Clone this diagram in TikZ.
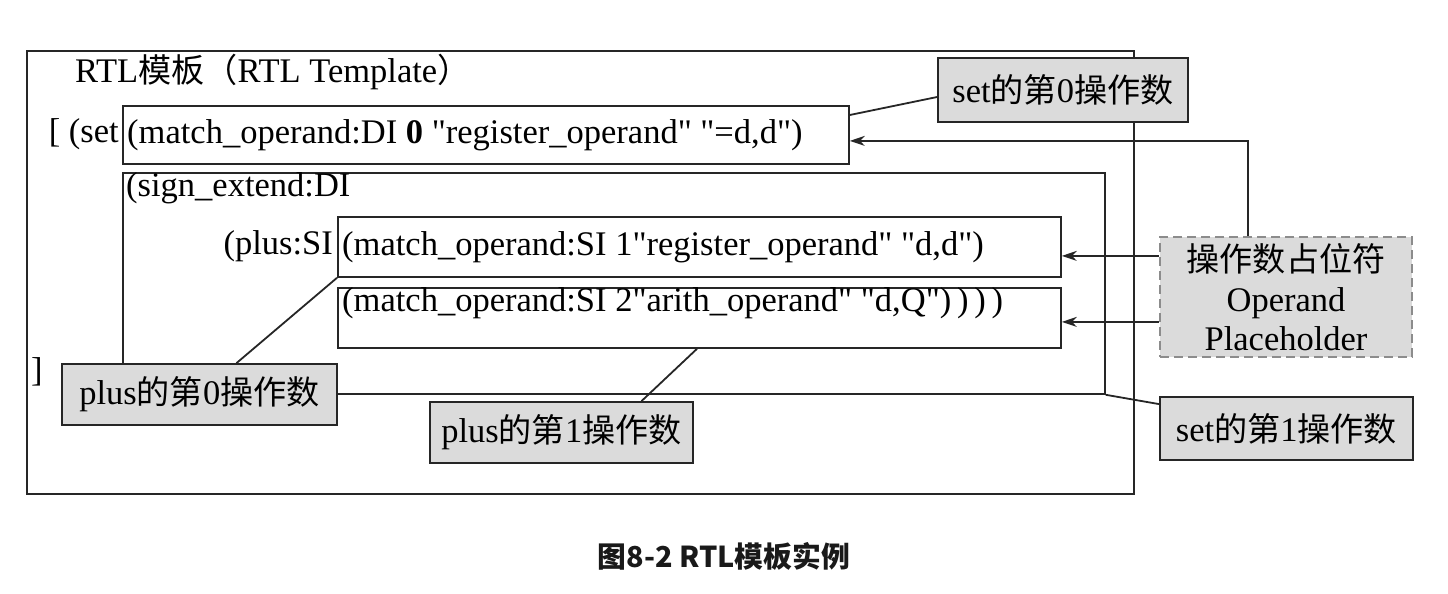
\documentclass[tikz,border=0pt]{standalone}
\usepackage{fontspec}
\setmainfont{Liberation Serif}[Ligatures=TeXOff]
\newfontfamily\cjk{Noto Sans CJK SC}[Scale=0.96]
\usetikzlibrary{arrows.meta}
\newcommand{\zh}[1]{{\cjk #1}}
\begin{document}
\begin{tikzpicture}[x=1pt,y=-1pt,
    font=\fontsize{34.5pt}{41pt}\selectfont,
    box/.style={draw=black!85, line width=1.8pt, anchor=north west, inner sep=0pt},
    tag/.style={draw=black!85, line width=1.8pt, fill=black!14, inner sep=0pt},
    code/.style={anchor=west, inner sep=0pt},
    ptr/.style={-{Stealth[length=15pt,width=10pt]}, line width=1.8pt, draw=black!85}]
  \useasboundingbox (0,0) rectangle (1448,594);
  % boxes
  \node[box, minimum width=1107pt, minimum height=443pt] (tmpl) at (26,50) {};
  \node[box, minimum width=726pt, minimum height=58pt] (setop) at (122,105) {};
  \node[box, minimum width=982pt, minimum height=221pt] (sext) at (122,172) {};
  \node[box, minimum width=723pt, minimum height=60pt] (op1) at (337,216) {};
  \node[box, minimum width=723pt, minimum height=60pt] (op2) at (337,287) {};
  % texts
  \node[code] (title) at (75,72) {RTL\zh{模板（}RTL Template\zh{）}};
  \node[code, anchor=east] (setkw) at (119,134) {[ (set};
  \node[code] (setoptxt) at ([xshift=5pt]setop.west)
    {(match\_operand:DI \textbf{0} "register\_operand" "=d,d")};
  \node[code] (sexttxt) at (126,188) {(sign\_extend:DI};
  \node[code, anchor=east] (pluskw) at (333,246) {(plus:SI};
  \node[code] (op1txt) at ([xshift=5pt]op1.west)
    {(match\_operand:SI 1"register\_operand" "d,d")};
  \node[code] (op2txt) at ([xshift=5pt,yshift=15pt]op2.west)
    {(match\_operand:SI 2"arith\_operand" "d,Q")\,)\,)\,)};
  \node[code] (close) at (31,372) {]};
  % tags
  \node[tag, minimum width=250pt, minimum height=64pt] (setzero) at (1063,90) {set\zh{的第}0\zh{操作数}};
  \node[tag, minimum width=275pt, minimum height=61pt] (plus0) at (199.5,394.5) {plus\zh{的第}0\zh{操作数}};
  \node[tag, minimum width=263pt, minimum height=61pt] (plus1) at (561.5,432.5) {plus\zh{的第}1\zh{操作数}};
  \node[tag, minimum width=253pt, minimum height=63pt] (setone) at (1286.5,428.5) {set\zh{的第}1\zh{操作数}};
  \node[tag, draw=black!45, dashed, dash pattern=on 9pt off 5pt, minimum width=252pt, minimum height=120pt, align=center]
    (ph) at (1286,297) {\zh{操作数占位符}\\[-1pt]Operand\\[-2pt]Placeholder};
  \node (cap) at (724,556) {\cjk\bfseries\fontsize{30pt}{34pt}\selectfont\color{black!90}图8-2 RTL模板实例};
  % connectors
  \coordinate (phtop) at ([xshift=-38pt]ph.north);
  \coordinate (a1) at ([yshift=-9pt]op1.east);
  \coordinate (a2) at ([yshift=-4pt]op2.east);
  \begin{scope}[line width=1.8pt, draw=black!85]
    \draw ([yshift=-7pt]setzero.west) -- ([yshift=-10pt]setop.north east);
    \draw ([xshift=37pt]plus0.north) -- (op1.south west);
    \draw ([xshift=80pt]plus1.north) -- ([xshift=360pt]op2.south west);
    \draw (sext.south east) -- ([yshift=-8pt]setone.north west);
    \draw[ptr] (phtop) |- ([yshift=-6pt]setop.east);
    \draw[ptr] (ph.west |- a1) -- (a1);
    \draw[ptr] (ph.west |- a2) -- (a2);
  \end{scope}
\end{tikzpicture}
\end{document}
